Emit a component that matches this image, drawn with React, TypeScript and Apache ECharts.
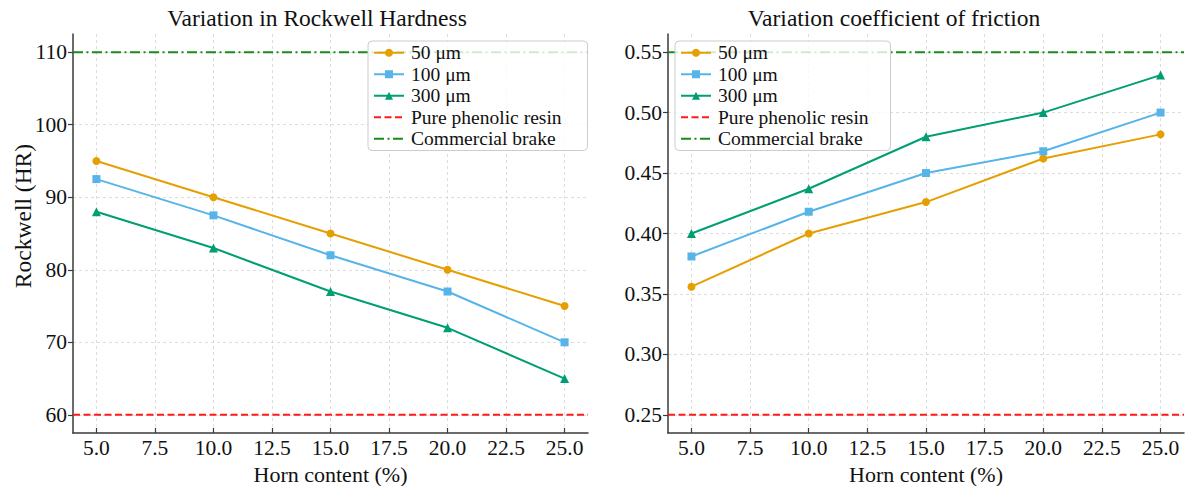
import React, { useEffect, useRef } from "react";
import * as echarts from "echarts";

const hornContent = [5, 10, 15, 20, 25];
const hardness50 = [95, 90, 85, 80, 75];
const hardness100 = [92.5, 87.5, 82, 77, 70];
const hardness300 = [88, 83, 77, 72, 65];
const hardnessPhenolic = 60;
const hardnessCommercial = 110;

const friction50 = [0.356, 0.4, 0.426, 0.462, 0.482];
const friction100 = [0.381, 0.418, 0.45, 0.468, 0.5];
const friction300 = [0.4, 0.437, 0.48, 0.5, 0.531];
const frictionPhenolic = 0.25;
const frictionCommercial = 0.55;

const xTicks = [5, 7.5, 10, 12.5, 15, 17.5, 20, 22.5, 25];
const hardnessTicks = [60, 70, 80, 90, 100, 110];
const frictionTicks = [0.25, 0.3, 0.35, 0.4, 0.45, 0.5, 0.55];

const names = ["50 μm", "100 μm", "300 μm", "Pure phenolic resin", "Commercial brake"];
const colors = ["#E69F00", "#56B4E9", "#009E73", "#FF1A1A", "#1A8C1A"];
const symbols = ["circle", "rect", "triangle"];

const FONT = "Liberation Serif";
const X_MIN = 4;
const X_MAX = 26;

function pairs(xs: number[], ys: number[]) {
  return xs.map((x, i) => [x, ys[i]]);
}

export default function App() {
  const ref = useRef<HTMLDivElement>(null);
  useEffect(() => {
    document.body.style.margin = "0";
    const chart = echarts.init(ref.current!, null, { renderer: "svg" });

    const axisLine = { show: true, lineStyle: { color: "#3a3a3a", width: 1.5 } };
    const axisTick = (vals: number[], inside: boolean) => ({
      show: true,
      inside,
      length: 5,
      customValues: vals,
      lineStyle: { color: "#3a3a3a", width: 1.2 },
    });
    const splitLine = { show: true, lineStyle: { color: "#d4d4d4", type: [3, 3], width: 0.8 } };
    const labelStyle = { fontFamily: FONT, fontSize: 21.5, color: "#111" };

    const xAxisBase = (gridIndex: number) => ({
      type: "value",
      gridIndex,
      min: X_MIN,
      max: X_MAX,
      name: "Horn content (%)",
      nameLocation: "middle",
      nameGap: 21,
      nameTextStyle: { fontFamily: FONT, fontSize: 22, color: "#111" },
      axisLine,
      axisTick: axisTick(xTicks, true),
      splitLine,
      axisLabel: {
        ...labelStyle,
        margin: 4,
        customValues: xTicks,
        formatter: (v: number) => v.toFixed(1),
      },
    });

    const dataSeries = (ys: number[][], phen: number, comm: number, idx: number) => {
      const s: any[] = ys.map((arr, i) => ({
        name: names[i],
        type: "line",
        xAxisIndex: idx,
        yAxisIndex: idx,
        data: pairs(hornContent, arr),
        symbol: symbols[i],
        symbolSize: i === 2 ? 9 : 8,
        lineStyle: { color: colors[i], width: 2 },
        itemStyle: { color: colors[i] },
        z: 3,
      }));
      s.push({
        name: names[3],
        type: "line",
        xAxisIndex: idx,
        yAxisIndex: idx,
        data: [
          [X_MIN, phen],
          [X_MAX, phen],
        ],
        symbol: "none",
        lineStyle: { color: colors[3], width: 2, type: [7, 3.5] },
        itemStyle: { color: colors[3], opacity: 0 },
        z: 2,
      });
      s.push({
        name: names[4],
        type: "line",
        xAxisIndex: idx,
        yAxisIndex: idx,
        data: [
          [X_MIN, comm],
          [X_MAX, comm],
        ],
        symbol: "none",
        lineStyle: { color: colors[4], width: 2, type: [10, 3.5, 2, 3.5] },
        itemStyle: { color: colors[4], opacity: 0 },
        z: 2,
      });
      return s;
    };

    const legendData = names.map((n, i) =>
      i < 3 ? { name: n } : { name: n, itemStyle: { opacity: 0 } }
    );

    const legendBase = (left: number, right: number) => ({
      data: legendData,
      orient: "vertical",
      left,
      top: 41,
      itemGap: 0,
      itemWidth: 30,
      itemHeight: 10,
      padding: [1, right, 1, 5],
      backgroundColor: "rgba(255,255,255,0.8)",
      borderColor: "#cccccc",
      borderWidth: 1,
      borderRadius: 4,
      selectedMode: false,
      textStyle: { fontFamily: FONT, fontSize: 19.5, lineHeight: 21.5, color: "#111", padding: [0, 0, 0, 2] },
    });

    chart.setOption({
      animation: false,
      backgroundColor: "#ffffff",
      grid: [
        { left: 73, top: 34, width: 515, height: 399, outerBoundsMode: "none", containLabel: false },
        { left: 668, top: 34, width: 516, height: 399, outerBoundsMode: "none", containLabel: false },
      ],
      xAxis: [xAxisBase(0), xAxisBase(1)],
      yAxis: [
        {
          type: "value",
          gridIndex: 0,
          min: 57.5,
          max: 112.5,
          axisLine,
          axisTick: axisTick(hardnessTicks, false),
          splitLine,
          axisLabel: {
            ...labelStyle,
            margin: 6,
            customValues: hardnessTicks,
            formatter: (v: number) => String(Math.round(v)),
          },
        },
        {
          type: "value",
          gridIndex: 1,
          min: 0.235,
          max: 0.565,
          axisLine,
          axisTick: axisTick(frictionTicks, false),
          splitLine,
          axisLabel: {
            ...labelStyle,
            margin: 6,
            customValues: frictionTicks,
            formatter: (v: number) => v.toFixed(2),
          },
        },
      ],
      legend: [legendBase(368, 26), legendBase(675, 22)],
      graphic: [
        {
          type: "text",
          x: 317,
          y: 18,
          style: {
            text: "Variation in Rockwell Hardness",
            font: `23.5px ${FONT}`,
            fill: "#111",
            textAlign: "center",
            textVerticalAlign: "middle",
          },
        },
        {
          type: "text",
          x: 894,
          y: 18,
          style: {
            text: "Variation coefficient of friction",
            font: `23.5px ${FONT}`,
            fill: "#111",
            textAlign: "center",
            textVerticalAlign: "middle",
          },
        },
        {
          type: "text",
          x: 23,
          y: 216,
          rotation: Math.PI / 2,
          style: {
            text: "Rockwell (HR)",
            font: `23.5px ${FONT}`,
            fill: "#111",
            textAlign: "center",
            textVerticalAlign: "middle",
          },
        },
      ],
      series: [
        ...dataSeries([hardness50, hardness100, hardness300], hardnessPhenolic, hardnessCommercial, 0),
        ...dataSeries([friction50, friction100, friction300], frictionPhenolic, frictionCommercial, 1),
      ],
    });
    return () => chart.dispose();
  }, []);
  return <div ref={ref} style={{ width: 1189, height: 486 }} />;
}
